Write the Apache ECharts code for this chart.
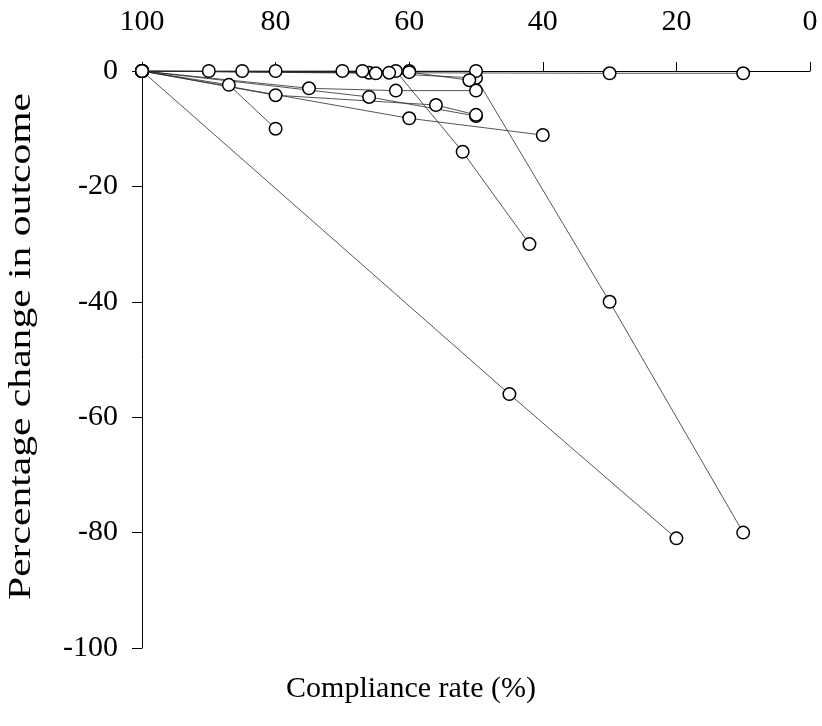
<!DOCTYPE html>
<html>
<head>
<meta charset="utf-8">
<script src="https://cdn.jsdelivr.net/npm/echarts@6/dist/echarts.min.js"></script>
<style>html,body{margin:0;padding:0;background:#fff}#chart{width:822px;height:726px}</style>
</head>
<body>
<div id="chart"></div>
<script>
// Each study: [compliance rate (%), percentage change in outcome]
const study1 = [[100, 0], [45, -56], [20, -81]];
const study2 = [[100, 0], [66, -0.3], [50, -1.2], [30, -40], [10, -80]];
const study3 = [[100, 0], [62, 0], [52, -14], [42, -30]];
const study4 = [[100, 0], [87, -2.4], [80, -10]];
const study5 = [[100, 0], [90, 0], [85, 0], [80, 0], [70, 0], [67, 0], [60, 0], [50, 0]];
const study6 = [[100, 0], [63, -0.3], [30, -0.4], [10, -0.4]];
const study7 = [[100, 0], [65, -0.4], [60, -0.2], [51, -1.6]];
const study8 = [[100, 0], [75, -3], [62, -3.4], [50, -3.4]];
const study9 = [[100, 0], [66, -4.5], [50, -7.8]];
const study10 = [[100, 0], [80, -4.2], [56, -5.9], [50, -7.6]];
const study11 = [[100, 0], [60, -8.2], [40, -11.1]];
const studies = [study1, study2, study3, study4, study5, study6, study7, study8, study9, study10, study11];

const xTicks = [0, 20, 40, 60, 80, 100];
const yTicks = [-100, -80, -60, -40, -20, 0];
const xTitle = 'Compliance rate (%)';
const yTitle = 'Percentage change in outcome';

const FONT = '"Liberation Serif", "Times New Roman", serif';
const chart = echarts.init(document.getElementById('chart'), null, {renderer: 'canvas'});

const lineSeries = studies.map((s, i) => ({
  type: 'line', name: 'study' + (i + 1), data: s, showSymbol: false, symbol: 'none',
  lineStyle: {color: '#2a2a2a', width: 0.8}, z: 2, silent: true, animation: false
}));
const pointSeries = {
  type: 'scatter', data: studies.flat(), symbol: 'circle', symbolSize: 12.5,
  itemStyle: {color: '#fff', borderColor: '#000', borderWidth: 1.5, opacity: 1},
  z: 5, animation: false
};

chart.setOption({
  animation: false,
  backgroundColor: '#fff',
  grid: {left: 142, right: 12, top: 71, bottom: 78, containLabel: false},
  xAxis: {
    type: 'value', position: 'top', inverse: true,
    min: xTicks[0], max: xTicks[xTicks.length - 1], interval: 20,
    axisLine: {show: true, onZero: false, lineStyle: {color: '#000', width: 1}},
    axisTick: {show: true, length: 9, inside: false, lineStyle: {color: '#000', width: 1}},
    axisLabel: {color: '#000', fontFamily: FONT, fontSize: 30, margin: 34},
    splitLine: {show: false}
  },
  yAxis: {
    type: 'value', min: yTicks[0], max: yTicks[yTicks.length - 1], interval: 20,
    axisLine: {show: true, onZero: false, lineStyle: {color: '#000', width: 1}},
    axisTick: {show: true, length: 10, lineStyle: {color: '#000', width: 1}},
    axisLabel: {color: '#000', fontFamily: FONT, fontSize: 30, margin: 24},
    splitLine: {show: false}
  },
  graphic: [
    {type: 'text', left: 'center', top: 674, style: {text: xTitle, font: '30px ' + FONT, fill: '#000'}},
    {type: 'text', rotation: Math.PI / 2, x: 6, y: 600, originX: 0, originY: 0, scaleX: 1.3,
     style: {text: yTitle, font: '32px ' + FONT, fill: '#000', textAlign: 'left', textVerticalAlign: 'top'}}
  ],
  series: [...lineSeries, pointSeries]
});
</script>
</body>
</html>
